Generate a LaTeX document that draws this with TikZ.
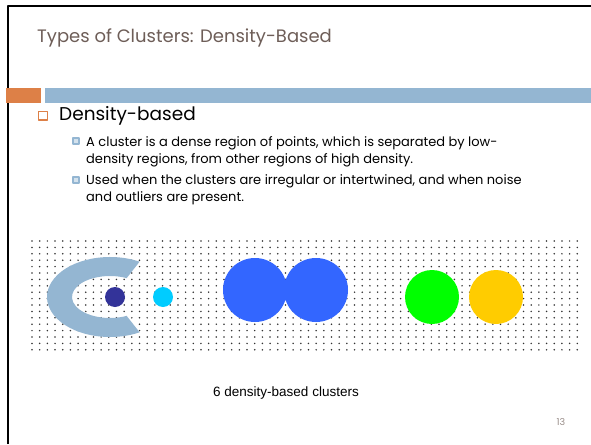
\documentclass[tikz,border=0pt]{standalone}
\usepackage{fontspec}
\setmainfont{Poppins}
\newfontfamily\arialfont{Liberation Sans}
\definecolor{titlebrown}{HTML}{6E5E58}
\definecolor{barorange}{HTML}{DD8047}
\definecolor{barblue}{HTML}{94B6D2}
\definecolor{darkdot}{HTML}{333399}
\definecolor{cyandot}{HTML}{00CCFF}
\definecolor{royal}{HTML}{3366FF}
\definecolor{limegreen}{HTML}{00FF00}
\definecolor{amber}{HTML}{FFCC00}
\begin{document}
\begin{tikzpicture}[x=1pt, y=-1pt, line join=round,
  txt/.style={anchor=base west, inner sep=0pt},
  subbox/.style={draw=barblue, fill=barblue!40, line width=1.4pt, minimum size=6pt, inner sep=0pt},
  subtext/.style={txt, font=\fontsize{13}{14}\selectfont}]
\def\dx{7.68} \def\dy{6.4} % dot grid step
\useasboundingbox (0,0) rectangle (591,444);
\fill[white] (0,0) rectangle (591,444);
% slide frame
\draw[line width=2pt] (8,444) -- (8,6) -- (591,6);
% bars
\fill[barorange] (6,88) rectangle (41,103);
\fill[barblue] (45,88) rectangle (591,103);
\node[txt, text=titlebrown, font=\fontsize{18}{20}\selectfont] (title) at (37,43) {Types of Clusters: Density-Based};
% bullets
\draw[barorange, line width=1.2pt] (38.5,111.5) rectangle (47.5,120);
\node[txt, font=\fontsize{18.5}{20}\selectfont] (head) at (59,120) {Density-based};
\node[subbox] (b1) at (76,141) {};
\node[subtext] (l1) at (86,146) {A cluster is a dense region of points, which is separated by low-};
\node[subtext] (l2) at (86,163) {density regions, from other regions of high density.};
\node[subbox] (b2) at (76,180) {};
\node[subtext] (l3) at (86,184) {Used when the clusters are irregular or intertwined, and when noise};
\node[subtext] (l4) at (86,201) {and outliers are present.};
% noise points
\foreach \i in {0,...,71}
  \foreach \j in {0,...,17}
    \fill[black!80] (32+\i*\dx, 241+\j*\dy) circle (0.85);
% clusters
\fill[barblue] (139.58,261.68) arc[start angle=-62, end angle=-298, x radius=63, y radius=40]
  -- (126.66,315.87) arc[start angle=64, end angle=296, x radius=38, y radius=21] -- cycle;
\fill[darkdot] (115,297) circle (10);
\fill[cyandot] (163,297) circle (10);
\fill[royal] (255,290) circle (32) (316,290) circle (32);
\fill[limegreen] (432,297) circle (27);
\fill[amber] (496,297) circle (27);
\node[font=\arialfont\fontsize{13.5}{15}\selectfont] (caption) at (286,393) {6 density-based clusters};
\node[text=titlebrown!70, font=\fontsize{9.5}{11}\selectfont] (pagenum) at (561,422) {13};
\end{tikzpicture}
\end{document}
